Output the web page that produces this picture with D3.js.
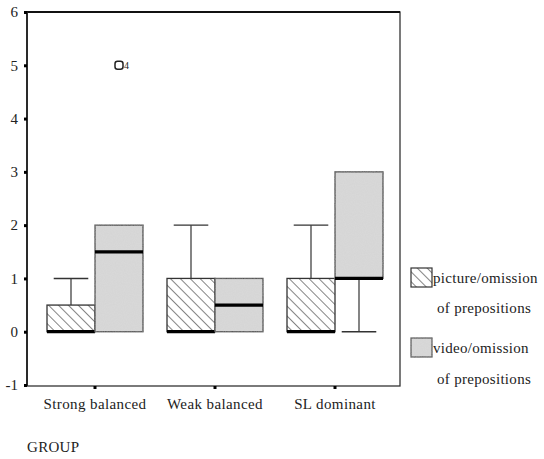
<!DOCTYPE html>
<html>
<head>
<meta charset="utf-8">
<script src="https://cdn.jsdelivr.net/npm/d3@7"></script>
<style>
  html, body { margin: 0; padding: 0; background: #fff; }
  svg { display: block; }
  svg text { font-family: "Liberation Serif", "Times New Roman", serif !important; }
</style>
</head>
<body>
<svg id="chart" width="544" height="459"></svg>
<script>
// Groups and series
const groups = ["Strong balanced", "Weak balanced", "SL dominant"];
const seriesNames = ["picture/omission of prepositions", "video/omission of prepositions"];
const yTicks = [-1, 0, 1, 2, 3, 4, 5, 6];

// Box statistics per group: [whiskerLow, q1, median, q3, whiskerHigh]
const pictureStats = [
  [0, 0, 0, 0.5, 1],
  [0, 0, 0, 1, 2],
  [0, 0, 0, 1, 2]
];
const videoStats = [
  [0, 0, 1.5, 2, 2],
  [0, 0, 0.5, 1, 1],
  [0, 1, 1, 3, 3]
];
// Outliers: [groupIndex, seriesIndex, value, caseLabel]
const outliers = [[0, 1, 5, "4"]];

const FONT = "Liberation Serif";

const svg = d3.select("#chart");
const defs = svg.append("defs");

// Diagonal hatch for the picture series
const hatch = defs.append("pattern")
  .attr("id", "hatch").attr("patternUnits", "userSpaceOnUse")
  .attr("width", 7).attr("height", 7)
  .attr("patternTransform", "rotate(-45)");
hatch.append("rect").attr("width", 7).attr("height", 7).attr("fill", "#fff");
hatch.append("line").attr("x1", 0).attr("y1", 0).attr("x2", 0).attr("y2", 7)
  .attr("stroke", "#333").attr("stroke-width", 1.2);

// Grainy grey for the video series
const grain = defs.append("filter").attr("id", "grain");
grain.append("feTurbulence").attr("type", "fractalNoise").attr("baseFrequency", 0.9)
  .attr("numOctaves", 1).attr("seed", 3).attr("result", "n");
grain.append("feColorMatrix").attr("in", "n").attr("type", "matrix")
  .attr("values", "0 0 0 0 0.83  0 0 0 0 0.83  0 0 0 0 0.83  0 0 0 0.25 0").attr("result", "g");
grain.append("feComposite").attr("in", "g").attr("in2", "SourceGraphic").attr("operator", "in").attr("result", "gc");
grain.append("feMerge").selectAll("feMergeNode").data(["SourceGraphic", "gc"]).join("feMergeNode").attr("in", d => d);

const fills = ["url(#hatch)", "#d4d4d4"];

const plot = { left: 27, right: 400, top: 12, bottom: 386 };

const x = d3.scaleBand().domain(groups).range([35, 395]).paddingInner(0).paddingOuter(0);
const sub = d3.scaleBand().domain([0, 1]).range([x.bandwidth() / 2 - 48, x.bandwidth() / 2 + 48]);
const y = d3.scaleLinear().domain([-1, 6]).range([plot.bottom - 1, plot.top]);

// Frame
svg.append("rect")
  .attr("x", plot.left).attr("y", plot.top)
  .attr("width", plot.right - plot.left).attr("height", plot.bottom - plot.top)
  .attr("fill", "none").attr("stroke", "#333").attr("stroke-width", 1.3);
svg.append("line").attr("x1", plot.left).attr("x2", plot.right)
  .attr("y1", plot.top).attr("y2", plot.top).attr("stroke", "#111").attr("stroke-width", 1.8);
svg.append("line").attr("x1", plot.left).attr("x2", plot.left)
  .attr("y1", plot.top).attr("y2", plot.bottom).attr("stroke", "#222").attr("stroke-width", 1.8);

// Y axis
const yAxis = svg.append("g").attr("transform", `translate(${plot.left},0)`)
  .call(d3.axisLeft(y).tickValues(yTicks).tickSize(3).tickPadding(6).tickFormat(d => String(d)));
yAxis.attr("font-family", FONT).attr("font-size", 15);
yAxis.select(".domain").remove();
yAxis.selectAll(".tick line").attr("stroke", "#000").attr("stroke-width", 3).attr("x1", -3).attr("x2", 0);
yAxis.selectAll(".tick text").attr("fill", "#222");

// X axis
const xAxis = svg.append("g").attr("transform", `translate(0,${plot.bottom})`)
  .call(d3.axisBottom(x).tickSize(3).tickPadding(9));
xAxis.attr("font-family", FONT).attr("font-size", 15).attr("letter-spacing", 0.4);
xAxis.select(".domain").remove();
xAxis.selectAll(".tick line").attr("stroke", "#000").attr("stroke-width", 3);
xAxis.selectAll(".tick text").attr("fill", "#222");

svg.append("text").attr("x", 27).attr("y", 452)
  .attr("font-family", FONT).attr("font-size", 15).attr("letter-spacing", 0.3)
  .attr("fill", "#222").text("GROUP");

// Boxes
const allStats = [pictureStats, videoStats];
allStats.forEach((stats, s) => {
  stats.forEach((st, g) => {
    const [lo, q1, med, q3, hi] = st;
    const x0 = x(groups[g]) + sub(s);
    const w = sub.bandwidth();
    const cx = x0 + w / 2;
    const cap = w * 0.72;
    const gg = svg.append("g");
    if (hi > q3) {
      gg.append("line").attr("x1", cx).attr("x2", cx).attr("y1", y(q3)).attr("y2", y(hi))
        .attr("stroke", "#333").attr("stroke-width", 1.2);
      gg.append("line").attr("x1", cx - cap / 2).attr("x2", cx + cap / 2).attr("y1", y(hi)).attr("y2", y(hi))
        .attr("stroke", "#333").attr("stroke-width", 1.4);
    }
    if (lo < q1) {
      gg.append("line").attr("x1", cx).attr("x2", cx).attr("y1", y(q1)).attr("y2", y(lo))
        .attr("stroke", "#333").attr("stroke-width", 1.2);
      gg.append("line").attr("x1", cx - cap / 2).attr("x2", cx + cap / 2).attr("y1", y(lo)).attr("y2", y(lo))
        .attr("stroke", "#333").attr("stroke-width", 1.4);
    }
    gg.append("rect").attr("x", x0).attr("y", y(q3)).attr("width", w).attr("height", y(q1) - y(q3))
      .attr("fill", fills[s]).attr("stroke", "#333").attr("stroke-width", 1.3)
      .attr("filter", s === 1 ? "url(#grain)" : null);
    gg.append("line").attr("x1", x0).attr("x2", x0 + w).attr("y1", y(med)).attr("y2", y(med))
      .attr("stroke", "#000").attr("stroke-width", 3.2);
  });
});

// Outliers
outliers.forEach(([g, s, v, lab]) => {
  const cx = x(groups[g]) + sub(s) + sub.bandwidth() / 2;
  svg.append("rect").attr("x", cx - 4).attr("y", y(v) - 4).attr("width", 8).attr("height", 8)
    .attr("rx", 2.5).attr("fill", "#fff").attr("stroke", "#222").attr("stroke-width", 1.5);
  svg.append("text").attr("x", cx + 5).attr("y", y(v) + 3.5)
    .attr("font-family", FONT).attr("font-size", 10).attr("fill", "#222").text(lab);
});

// Legend
const legendRows = [
  { swatchY: 268, lines: ["picture/omission", "of prepositions"], base: [283, 313] },
  { swatchY: 338, lines: ["video/omission", "of prepositions"], base: [353, 384] }
];
legendRows.forEach((r, i) => {
  svg.append("rect").attr("x", 411).attr("y", r.swatchY).attr("width", 21).attr("height", 19)
    .attr("fill", fills[i]).attr("stroke", "#333").attr("stroke-width", 1.2)
    .attr("filter", i === 1 ? "url(#grain)" : null);
  svg.append("text").attr("x", 433).attr("y", r.base[0])
    .attr("font-family", FONT).attr("font-size", 15).attr("letter-spacing", 0.3)
    .attr("fill", "#222").text(r.lines[0]);
  svg.append("text").attr("x", 437).attr("y", r.base[1])
    .attr("font-family", FONT).attr("font-size", 15).attr("letter-spacing", 0.3)
    .attr("fill", "#222").text(r.lines[1]);
});
</script>
</body>
</html>
